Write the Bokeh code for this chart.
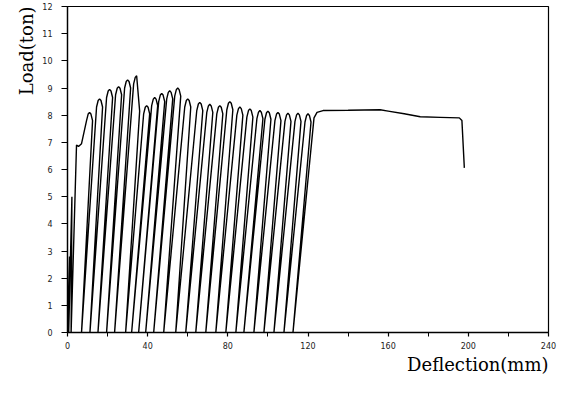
import math
from bokeh.plotting import figure
from bokeh.models import FixedTicker, Range1d, Title
from bokeh.embed import file_html
from bokeh.resources import INLINE

# ---- data ----
x_ticks = [0, 40, 80, 120, 160, 200, 240]
x_minor_ticks = [20, 60, 100, 140, 180, 220]
y_ticks = [0, 1, 2, 3, 4, 5, 6, 7, 8, 9, 10, 11, 12]

# first loading (deflection mm, load ton)
init_defl = [0.0, 1.0, 0.6, 2.2, 1.8, 4.5, 5.5, 7.0]
init_load = [0.0, 2.8, 0.0, 5.0, 0.0, 6.9, 6.85, 6.95]

# cycle peaks on the envelope
peak_defl = [11.0, 16.0, 21.0, 25.5, 30.0, 34.5, 39.5, 43.5, 47.0, 51.0, 55.0, 60.0,
             66.0, 71.0, 76.0, 81.0, 86.0, 91.0, 96.0, 100.0, 105.0, 110.0, 115.0, 120.0]
peak_load = [8.10, 8.60, 8.95, 9.05, 9.30, 9.45, 8.35, 8.65, 8.80, 8.90, 9.00, 8.60,
             8.47, 8.40, 8.35, 8.50, 8.30, 8.23, 8.17, 8.15, 8.10, 8.07, 8.07, 8.05]

# residual deflection where each reloading starts (load = 0)
reload_base = [7.0, 11.2, 15.2, 19.5, 23.5, 29.0, 32.0, 35.5, 39.0, 43.0, 48.0,
               54.0, 59.0, 64.0, 69.0, 74.0, 79.0, 84.0, 88.0, 93.0, 98.0, 103.0, 108.0, 112.5]

# sudden load drop after the maximum
drop_peak = 34.5
drop_defl = 36.0
drop_load = 8.15

# final loading to failure
tail_defl = [123.0, 124.5, 127.5, 140.0, 156.0, 160.0, 168.0, 176.0, 186.0, 195.5, 196.8, 198.0]
tail_load = [7.90, 8.10, 8.17, 8.18, 8.20, 8.15, 8.05, 7.94, 7.92, 7.90, 7.80, 6.06]

# ---- build the load path ----
xs = list(init_defl)
ys = list(init_load)
for i, (px, py) in enumerate(zip(peak_defl, peak_load)):
    if i > 0:
        xs.append(reload_base[i - 1]); ys.append(0.0)
    if px == drop_peak:
        xs += [px - 1.5, px - 0.7, px, drop_defl]
        ys += [py - 0.3, py - 0.06, py, drop_load]
    else:
        xs += [px - 1.5, px - 0.7, px, px + 0.7, px + 1.5]
        ys += [py - 0.3, py - 0.06, py, py - 0.06, py - 0.3]
xs.append(reload_base[-1]); ys.append(0.0)
xs += tail_defl
ys += tail_load

p = figure(width=566, height=392, x_range=Range1d(0, 240), y_range=Range1d(0, 12),
           output_backend="svg", toolbar_location=None,
           min_border_left=67, min_border_right=18, min_border_top=6, min_border_bottom=60)
p.background_fill_color = "white"
p.border_fill_color = "white"
p.outline_line_color = "black"
p.outline_line_width = 1.2
p.xgrid.visible = False
p.ygrid.visible = False

p.line(xs, ys, line_color="black", line_width=1.4)

for ax in (p.xaxis[0], p.yaxis[0]):
    ax.axis_line_color = "black"
    ax.axis_line_width = 1.3
    ax.major_tick_line_color = "black"
    ax.major_tick_line_width = 1.2
    ax.major_tick_in = 0
    ax.major_tick_out = 5
    ax.major_label_text_font = "DejaVu Sans"
    ax.major_label_text_font_size = "8px"
    ax.major_label_text_color = "#222222"

p.xaxis.ticker = FixedTicker(ticks=x_ticks, minor_ticks=x_minor_ticks)
p.xaxis.minor_tick_line_color = "black"
p.xaxis.minor_tick_in = 0
p.xaxis.minor_tick_out = 4
p.xaxis.major_tick_out = 4
p.xaxis.major_label_standoff = 5

p.yaxis.ticker = FixedTicker(ticks=y_ticks)
p.yaxis.minor_tick_line_color = None
p.yaxis.major_tick_out = 6
p.yaxis.major_label_standoff = 9

p.add_layout(Title(text="Load(ton)", align="right", text_font="DejaVu Serif",
                   text_font_size="18px", text_font_style="normal", text_color="black",
                   standoff=6), "left")
p.add_layout(Title(text="Deflection(mm)", align="right", text_font="DejaVu Serif",
                   text_font_size="18px", text_font_style="normal", text_color="black",
                   standoff=0), "below")

open("out.html", "w").write(file_html(p, INLINE))
